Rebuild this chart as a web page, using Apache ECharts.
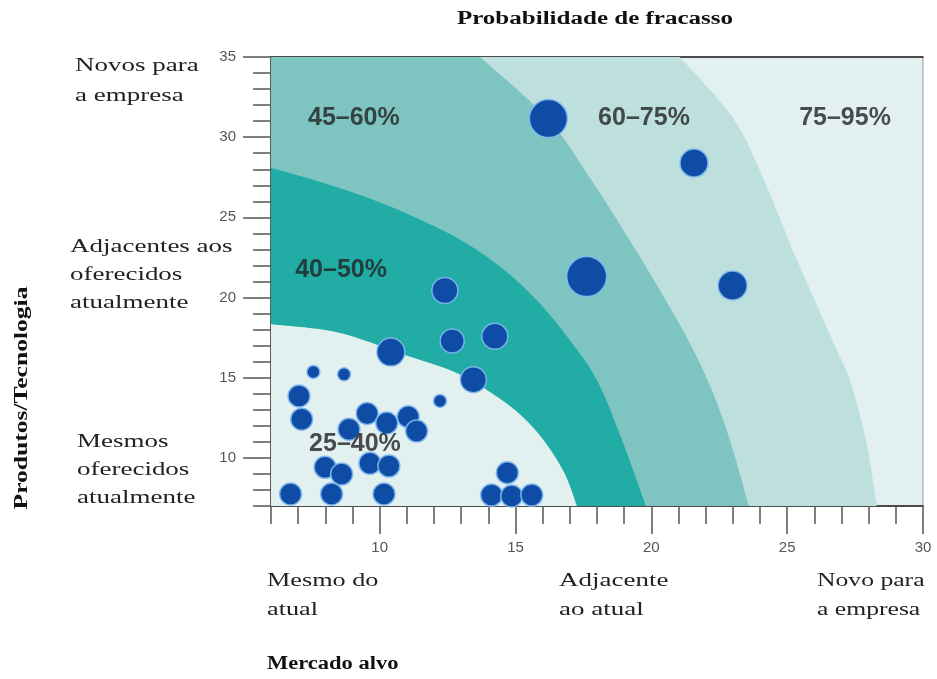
<!DOCTYPE html>
<html>
<head>
<meta charset="utf-8">
<script src="https://cdn.jsdelivr.net/npm/echarts@6/dist/echarts.min.js"></script>
<style>
  html, body { margin: 0; padding: 0; background: #fff; }
  #chart { width: 937px; height: 679px; }
</style>
</head>
<body>
<div id="chart"></div>
<script>
// bolhas (projetos): mercado alvo, produtos/tecnologia, raio
var bubbleX = [16.21, 21.57, 17.62, 22.99, 12.40, 10.41, 12.67, 14.24, 13.45, 7.56, 8.69, 12.22,
               7.03, 7.13, 8.87, 9.54, 10.26, 11.05, 11.36, 7.99, 8.60, 9.64, 10.34,
               6.72, 8.23, 10.16, 14.70, 14.12, 14.86, 15.60];
var bubbleY = [31.16, 28.39, 21.31, 20.75, 20.44, 16.60, 17.29, 17.58, 14.88, 15.36, 15.21, 13.55,
               13.86, 12.41, 11.79, 12.77, 12.18, 12.56, 11.67, 9.41, 8.99, 9.66, 9.49,
               7.75, 7.75, 7.75, 9.07, 7.68, 7.62, 7.68];
var bubbleWeight = [19, 14, 20, 14.5, 13, 14, 12, 13, 13, 6.5, 6.5, 6.5,
                    11, 11, 11, 11, 11, 11, 11, 11, 11, 11, 11,
                    11, 11, 11, 11, 11, 11, 11];

// limites das faixas de probabilidade, do topo/esquerda ate o eixo x
var arc25_40 = [[6, 18.33], [8.43, 17.83], [10.86, 16.46], [12.77, 15.34], [14.13, 14.03],
                [15.24, 12.60], [16.12, 10.92], [16.82, 8.99], [17.26, 7]];
var arc40_50 = [[6, 28.10], [7.80, 27.22], [9.64, 26.17], [11.48, 24.86], [13.14, 23.43],
                [14.61, 21.69], [15.90, 19.63], [17.0, 17.33], [18.0, 14.84], [18.92, 11.11], [19.80, 7]];
var arc45_60 = [[13.69, 35], [16.19, 31.14], [17.81, 27.29], [19.14, 23.74], [20.32, 20.44],
                [21.42, 17.14], [22.23, 14.22], [22.89, 11.11], [23.59, 7]];
var arc60_75 = [[21.05, 35], [23.00, 31.21], [24.11, 27.47], [25.21, 22.93], [26.02, 19.82],
                [26.83, 16.71], [27.31, 14.84], [27.90, 11.11], [28.30, 7]];

var zoneNames = ['45–60%', '60–75%', '75–95%', '40–50%', '25–40%'];
var zoneLabelX = [9.05, 19.73, 27.13, 8.58, 9.09];
var zoneLabelY = [31.2, 31.2, 31.2, 21.69, 10.86];

var xMajorTicks = [10, 15, 20, 25, 30];
var yMajorTicks = [10, 15, 20, 25, 30, 35];

var bands = [arc60_75, arc45_60, arc40_50, arc25_40];
var bandColors = ['#bddfdd', '#7ec4c1', '#21aca6', '#e2f1f0'];

var chart = echarts.init(document.getElementById('chart'));

var bubbleData = [];
for (var i = 0; i < bubbleX.length; i++) {
    bubbleData.push([bubbleX[i], bubbleY[i], bubbleWeight[i]]);
}
var zoneData = [];
for (var j = 0; j < zoneNames.length; j++) {
    zoneData.push({ name: zoneNames[j], value: [zoneLabelX[j], zoneLabelY[j]] });
}

// caminho suave (catmull-rom) pelos pontos da curva, fechado no canto (6,7)
function bandPath(api, curve) {
    var c = curve.map(function (p) { return api.coord(p); });
    var o = api.coord([6, 7]);
    var d = 'M' + o[0] + ',' + o[1];
    if (curve[0][0] !== 6) {
        var tl = api.coord([6, curve[0][1]]);
        d += 'L' + tl[0] + ',' + tl[1];
    }
    d += 'L' + c[0][0] + ',' + c[0][1];
    for (var k = 0; k < c.length - 1; k++) {
        var p0 = c[k - 1] || c[k], p1 = c[k], p2 = c[k + 1], p3 = c[k + 2] || c[k + 1];
        var c1x = p1[0] + (p2[0] - p0[0]) / 6, c1y = p1[1] + (p2[1] - p0[1]) / 6;
        var c2x = p2[0] - (p3[0] - p1[0]) / 6, c2y = p2[1] - (p3[1] - p1[1]) / 6;
        d += 'C' + c1x + ',' + c1y + ',' + c2x + ',' + c2y + ',' + p2[0] + ',' + p2[1];
    }
    return d + 'Z';
}

var tickStyle = { color: '#555', width: 1.5 };
var serif = 'Liberation Serif';

function serifText(x, y, text, size, sx, bold, lh) {
    return {
        type: 'text', x: x, y: y, scaleX: sx, z: 10,
        style: {
            text: text, font: (bold ? 'bold ' : '') + size + 'px ' + serif,
            fill: bold ? '#111' : '#222', lineHeight: lh || size, align: 'left', verticalAlign: 'top'
        }
    };
}

var option = {
    backgroundColor: '#fff',
    animation: false,
    grid: {
        left: 271, right: 14, top: 57, bottom: 173,
        show: true, backgroundColor: '#e2f1f0', borderColor: '#999', borderWidth: 1
    },
    xAxis: [{
        type: 'value', min: 6, max: 30, interval: 1,
        axisLine: { lineStyle: { color: '#222', width: 1.5 } },
        axisTick: { length: 18, lineStyle: tickStyle },
        axisLabel: { show: false }, splitLine: { show: false }
    }, {
        type: 'value', min: 6, max: 30, position: 'bottom',
        axisLine: { show: false },
        axisTick: { customValues: xMajorTicks, length: 28, lineStyle: tickStyle },
        axisLabel: { customValues: xMajorTicks, margin: 34, color: '#555', fontSize: 15, fontFamily: 'Liberation Sans' },
        splitLine: { show: false }
    }, {
        type: 'value', min: 6, max: 30, position: 'top',
        axisLine: { lineStyle: { color: '#222', width: 1.5 } },
        axisTick: { show: false }, axisLabel: { show: false }, splitLine: { show: false }
    }],
    yAxis: [{
        type: 'value', min: 7, max: 35, interval: 1,
        axisLine: { lineStyle: { color: '#333', width: 1.5 } },
        axisTick: { length: 18, lineStyle: tickStyle },
        axisLabel: { show: false }, splitLine: { show: false }
    }, {
        type: 'value', min: 7, max: 35, position: 'left',
        axisLine: { show: false },
        axisTick: { customValues: yMajorTicks, length: 28, lineStyle: tickStyle },
        axisLabel: { customValues: yMajorTicks, margin: 35, color: '#555', fontSize: 15, fontFamily: 'Liberation Sans' },
        splitLine: { show: false }
    }],
    graphic: [
        {
            type: 'text', x: 595, y: 10, scaleX: 1.39, z: 10,
            style: { text: 'Probabilidade de fracasso', font: 'bold 18px ' + serif, fill: '#111', align: 'center', verticalAlign: 'top' }
        },
        serifText(75, 51, 'Novos para\na empresa', 19, 1.42, false, 30),
        serifText(70, 233, 'Adjacentes aos\noferecidos\natualmente', 19, 1.42, false, 28),
        serifText(77, 428, 'Mesmos\noferecidos\natualmente', 19, 1.42, false, 28),
        serifText(267, 567, 'Mesmo do\natual', 19, 1.38, false, 29),
        serifText(559, 567, 'Adjacente\nao atual', 19, 1.42, false, 29),
        serifText(817, 567, 'Novo para\na empresa', 19, 1.35, false, 29),
        serifText(267, 655, 'Mercado alvo', 18, 1.25, true),
        {
            type: 'text', x: 22, y: 398, rotation: Math.PI / 2, scaleX: 1.42, z: 10,
            style: { text: 'Produtos/Tecnologia', font: 'bold 18px ' + serif, fill: '#111', align: 'center', verticalAlign: 'middle' }
        }
    ],
    series: [{
        type: 'custom',
        silent: true,
        z: 1,
        data: bands.map(function (b, k) { return [6, 7, k]; }),
        renderItem: function (params, api) {
            return {
                type: 'path',
                shape: { pathData: bandPath(api, bands[params.dataIndex]) },
                style: { fill: bandColors[params.dataIndex] }
            };
        }
    }, {
        type: 'scatter',
        z: 3,
        data: bubbleData,
        symbolSize: function (v) { return v[2] * 2; },
        itemStyle: { color: '#0e4ca6', borderColor: 'rgba(130,185,240,0.9)', borderWidth: 1.5, opacity: 1 }
    }, {
        type: 'scatter',
        z: 5,
        silent: true,
        symbolSize: 0,
        data: zoneData,
        label: {
            show: true, position: 'inside', formatter: '{b}',
            fontFamily: 'Liberation Sans', fontWeight: 'bold', fontSize: 25, color: '#222'
        }
    }]
};

chart.setOption(option);
</script>
</body>
</html>
